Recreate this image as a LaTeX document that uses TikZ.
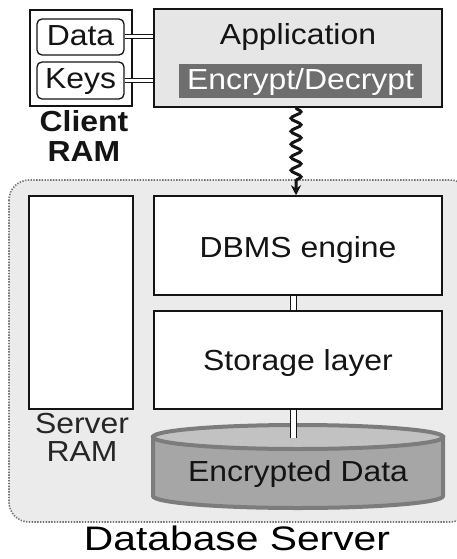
\documentclass[tikz,border=0pt]{standalone}
\usepackage{fontspec}
\setmainfont[FakeStretch=1.1]{Liberation Sans}
\newfontfamily\titlefont[FakeStretch=1.2]{Liberation Sans}
\usetikzlibrary{decorations.pathmorphing,arrows.meta,calc}

\definecolor{appgray}{HTML}{E6E6E6}
\definecolor{srvgray}{HTML}{EBEBEB}
\definecolor{encgray}{HTML}{6E6E6E}
\definecolor{cylbody}{HTML}{A6A6A6}
\definecolor{cyltop}{HTML}{C2C2C2}
\definecolor{cylline}{HTML}{7C7C7C}
\definecolor{ink}{HTML}{141414}

\begin{document}
\begin{tikzpicture}[x=1pt,y=-1pt,
  box/.style={draw=ink, line width=1.5pt, fill=white, inner sep=0pt},
  ibox/.style={draw=ink, line width=1.3pt, fill=white, rounded corners=5pt, inner sep=0pt},
  txt/.style={font=\fontsize{29}{30}\selectfont, text=ink, anchor=base, inner sep=0pt},
  link/.style={draw=ink, line width=1pt, double=white, double distance=3pt},
  vlink/.style={draw=ink, line width=1.1pt, double=white, double distance=4.5pt},
]
\useasboundingbox (0,0) rectangle (456,559);

% server enclosure
\filldraw[fill=srvgray, draw=black!55, line width=1.6pt, dash pattern=on 1.4pt off 1.4pt,
  rounded corners=20pt] (9,180) rectangle (470,522);

% client side
\node[box, minimum width=102pt, minimum height=96pt] (client) at (81,58) {};
\node[ibox, minimum width=87pt, minimum height=36pt] (data) at (80.5,37) {};
\node[ibox, minimum width=87pt, minimum height=37pt] (keys) at (80.5,80.5) {};
\node[txt] (datalbl) at (80.5,45.7) {Data};
\node[txt] (keyslbl) at (80.5,88.3) {Keys};
\node[txt, font=\fontsize{29}{30}\selectfont\bfseries] (clientlbl) at (84,131.7) {Client};
\node[txt, font=\fontsize{29}{30}\selectfont\bfseries] (clientram) at (84,161.7) {RAM};

\node[box, fill=appgray, minimum width=288pt, minimum height=98pt] (app) at (298,58) {};
\node[txt] (applbl) at (298,44.3) {Application};
\node[fill=encgray, minimum width=243pt, minimum height=34pt, inner sep=0pt] (enc) at (300.5,81) {};
\node[txt, text=white] (enclbl) at (300.5,90) {Encrypt/Decrypt};

\draw[link] (data.east) -- (data.east -| app.west);
\draw[link] (keys.east) -- (keys.east -| app.west);

% server side
\node[box, minimum width=104pt, minimum height=213pt] (sram) at (81,302.5) {};
\node[txt, text=black!85] (sramlbl) at (82,433) {Server};
\node[txt, text=black!85] (sramram) at (82,461) {RAM};

\node[box, minimum width=288pt, minimum height=99pt] (dbms) at (298,245.5) {};
\node[txt] (dbmslbl) at (298,257) {DBMS engine};
\node[box, minimum width=288pt, minimum height=98pt] (storage) at (298,360) {};
\node[txt] (storlbl) at (298,370) {Storage layer};

% encrypted store (cylinder)
\filldraw[fill=cylbody, draw=cylline, line width=4pt]
  (153,437) -- (153,496) arc[start angle=180, end angle=0, x radius=145, y radius=12]
  -- (443,437) -- cycle;
\filldraw[fill=cyltop, draw=cylline, line width=4pt]
  (298,437) ellipse [x radius=145, y radius=12];
\node[txt] (cyllbl) at (298,481) {Encrypted Data};
\coordinate (cylin) at (293.5,438);

% vertical links
\coordinate (vx) at (293.5,0);
\draw[vlink] (dbms.south -| vx) -- (storage.north -| vx);
\draw[vlink] (storage.south -| vx) -- (cylin);

% network hop
\coordinate (sx) at (296,0);
\draw[line width=3pt, ink, -{Stealth[length=10pt,width=10pt]},
  decorate, decoration={snake, amplitude=5pt, segment length=13pt, post length=9pt}]
  (app.south -| sx) -- (dbms.north -| sx);

\node[font=\titlefont\fontsize{34}{34}\selectfont, text=black, anchor=base, inner sep=0pt]
  (srvlbl) at (237,550) {Database Server};
\end{tikzpicture}
\end{document}
